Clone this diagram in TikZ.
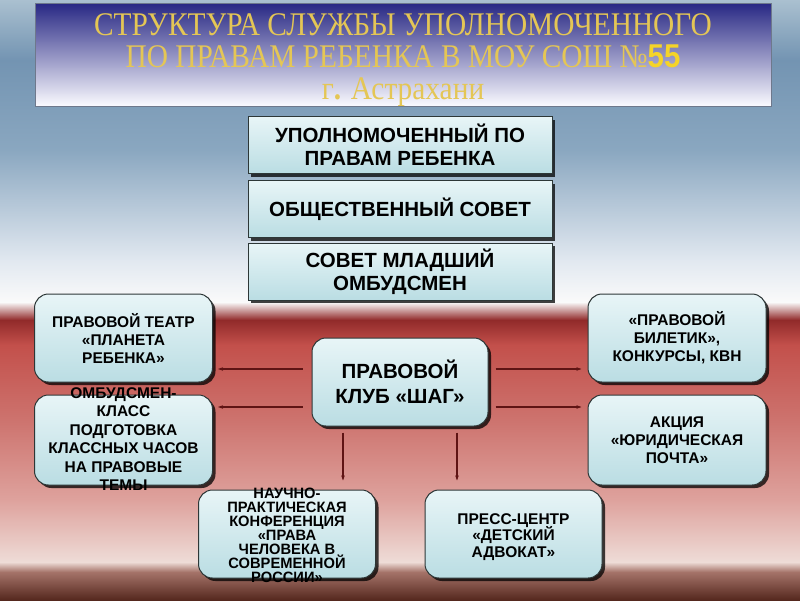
\documentclass[tikz,border=0pt]{standalone}
\usepackage{fontspec}
\setmainfont{Liberation Serif}
\newfontfamily\arial{Liberation Sans}
\usetikzlibrary{shadows,arrows.meta,calc}
\definecolor{bgA}{RGB}{170,192,208}
\definecolor{bgB}{RGB}{115,148,178}
\definecolor{bgC}{RGB}{138,167,192}
\definecolor{bgD}{RGB}{225,232,240}
\definecolor{bgE}{RGB}{250,250,250}
\definecolor{bgF}{RGB}{145,42,42}
\definecolor{bgG}{RGB}{195,80,75}
\definecolor{bgH}{RGB}{205,115,110}
\definecolor{bgI}{RGB}{222,162,157}
\definecolor{bgJ}{RGB}{238,220,215}
\definecolor{bgK}{RGB}{165,115,105}
\definecolor{bgL}{RGB}{85,40,30}
\definecolor{tblue}{RGB}{40,40,132}
\definecolor{gold}{RGB}{228,198,85}
\definecolor{yel}{RGB}{245,212,40}
\definecolor{boxtop}{RGB}{232,245,247}
\definecolor{boxbot}{RGB}{186,221,227}
\definecolor{boxline}{RGB}{45,55,55}
\definecolor{arrcol}{RGB}{95,20,20}
\tikzset{
  boxbase/.style={draw=boxline, line width=1pt, top color=boxtop, bottom color=boxbot,
    drop shadow={shadow xshift=3pt, shadow yshift=-3pt, fill=black, opacity=0.75},
    inner sep=0pt, align=center, text=black},
  topbox/.style={boxbase, rectangle, minimum width=304pt, minimum height=57pt,
    font=\arial\bfseries\fontsize{20.5}{23}\selectfont},
  rbox/.style={boxbase, rounded corners=14pt, minimum width=178pt, minimum height=88pt,
    font=\arial\bfseries\fontsize{15.5}{18}\selectfont},
  txt/.style={align=center, text=black, inner sep=0pt},
  arr/.style={draw=arrcol, line width=1.1pt, -{Stealth[length=5pt,width=3.5pt]}}
}
\begin{document}
\begin{tikzpicture}[x=1pt,y=-1pt]
\useasboundingbox (0,0) rectangle (800,600);
% background
\shade[top color=bgA, bottom color=bgB] (0,0) rectangle (800,60);
\shade[top color=bgB, bottom color=bgC] (0,60) rectangle (800,150);
\shade[top color=bgC, bottom color=bgD] (0,150) rectangle (800,260);
\shade[top color=bgD, bottom color=bgE] (0,260) rectangle (800,302);
\shade[top color=bgE, bottom color=bgF] (0,302) rectangle (800,320);
\shade[top color=bgF, bottom color=bgG] (0,320) rectangle (800,345);
\shade[top color=bgG, bottom color=bgH] (0,345) rectangle (800,420);
\shade[top color=bgH, bottom color=bgI] (0,420) rectangle (800,500);
\shade[top color=bgI, bottom color=bgJ] (0,500) rectangle (800,562);
\shade[top color=bgJ, bottom color=bgK] (0,562) rectangle (800,572);
\shade[top color=bgK, bottom color=bgL] (0,572) rectangle (800,600);
% title
\node[draw={rgb,255:red,110;green,120;blue,140}, line width=1pt, top color=tblue, bottom color={rgb,255:red,250;green,250;blue,255},
  minimum width=736pt, minimum height=103pt, inner sep=0pt] (tb) at (403,54.5) {};
\node[txt, text=gold, font=\fontsize{33}{31.5}\selectfont] (tt) at (403,61)
  {\scalebox{0.89}[1]{\begin{tabular}{@{}c@{}}СТРУКТУРА СЛУЖБЫ УПОЛНОМОЧЕННОГО\\ПО ПРАВАМ РЕБЕНКА В МОУ СОШ №{\arial\bfseries\color{yel}55}\\г{\bfseries.} Астрахани\end{tabular}}};
% top boxes
\node[topbox] (u) at (400,145) {УПОЛНОМОЧЕННЫЙ ПО\\ПРАВАМ РЕБЕНКА};
\node[topbox] (o) at (400,209) {ОБЩЕСТВЕННЫЙ СОВЕТ};
\node[topbox] (s) at (400,271.5) {СОВЕТ МЛАДШИЙ\\ОМБУДСМЕН};
% side boxes
\node[rbox] (l1) at (123.5,338) {ПРАВОВОЙ ТЕАТР\\«ПЛАНЕТА\\РЕБЕНКА»};
\node[rbox, minimum height=90pt] (l2) at (123.5,440) {};
\node[txt, font=\arial\bfseries\fontsize{15.5}{18.4}\selectfont] (l2t) at (123.5,439)
  {ОМБУДСМЕН-\\КЛАСС\\ПОДГОТОВКА\\КЛАССНЫХ ЧАСОВ\\НА ПРАВОВЫЕ\\ТЕМЫ};
\node[rbox] (r1) at (677,338) {«ПРАВОВОЙ\\БИЛЕТИК»,\\КОНКУРСЫ, КВН};
\node[rbox, minimum height=90pt] (r2) at (677,440) {АКЦИЯ\\«ЮРИДИЧЕСКАЯ\\ПОЧТА»};
% center
\node[rbox, minimum width=176pt, font=\arial\bfseries\fontsize{20.5}{25}\selectfont] (c) at (400,382) {ПРАВОВОЙ\\КЛУБ «ШАГ»};
% bottom boxes
\node[rbox, minimum width=177pt] (b1) at (287,534) {};
\node[txt, font=\arial\bfseries\fontsize{15}{14}\selectfont] (b1t) at (287,535)
  {\scalebox{0.98}[1]{\parbox{170pt}{\centering\lineskiplimit=-30pt НАУЧНО-\\ПРАКТИЧЕСКАЯ\\КОНФЕРЕНЦИЯ\\«ПРАВА\\ЧЕЛОВЕКА В\\СОВРЕМЕННОЙ\\РОССИИ»}}};
\node[rbox, minimum width=177pt, font=\arial\bfseries\fontsize{15.5}{16.5}\selectfont] (b2) at (513.5,534) {};
\node[txt, font=\arial\bfseries\fontsize{15.5}{16.5}\selectfont] (b2t) at (513.5,537)
  {\parbox{170pt}{\centering\lineskiplimit=-30pt ПРЕСС-ЦЕНТР\\«ДЕТСКИЙ\\АДВОКАТ»}};
% connectors
\draw[arr, shorten <=9pt, shorten >=5pt] (c.west |- 0,369) -- (l1.east |- 0,369);
\draw[arr, shorten <=9pt, shorten >=5pt] (c.west |- 0,407) -- (l2.east |- 0,407);
\draw[arr, shorten <=7pt, shorten >=6pt] (c.east |- 0,369) -- (r1.west |- 0,369);
\draw[arr, shorten <=7pt, shorten >=6pt] (c.east |- 0,407) -- (r2.west |- 0,407);
\draw[arr, shorten <=6pt, shorten >=9pt] (c.south -| 343,0) -- (b1.north -| 343,0);
\draw[arr, shorten <=6pt, shorten >=9pt] (c.south -| 457,0) -- (b2.north -| 457,0);
\end{tikzpicture}
\end{document}
